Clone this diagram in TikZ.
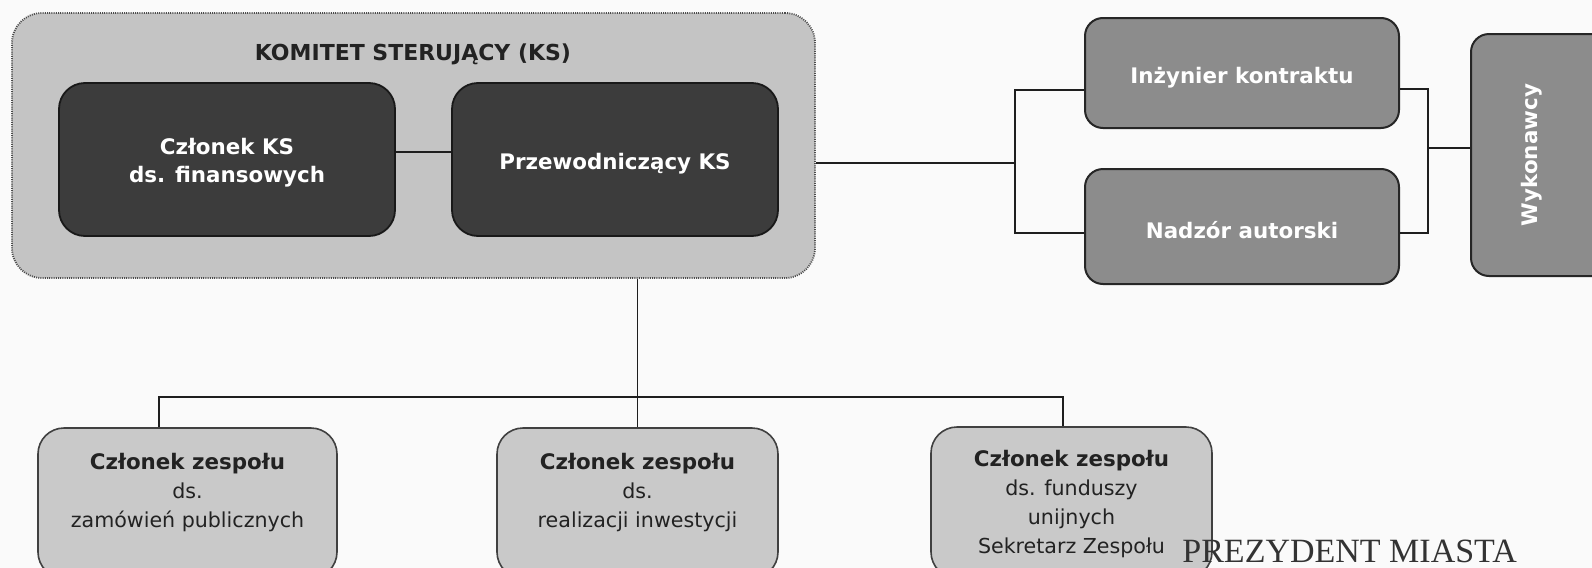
\documentclass[tikz,border=0pt]{standalone}
\usepackage{fontspec}
\setmainfont{DejaVu Sans}
\newfontfamily\stampfont{Liberation Serif}
\definecolor{bgC}{HTML}{FAFAFA}
\definecolor{ksC}{HTML}{C4C4C4}
\definecolor{darkC}{HTML}{3C3C3C}
\definecolor{midC}{HTML}{8C8C8C}
\definecolor{lightC}{HTML}{C9C9C9}
\definecolor{textC}{HTML}{222222}
\definecolor{lineC}{HTML}{1E1E1E}
\tikzset{
  boldfont/.style={font=\fontsize{10.7}{14}\selectfont\bfseries},
  ksbox/.style={draw=lineC!80, fill=ksC, line width=0.9pt, dash pattern=on 0.5pt off 0.6pt, rounded corners=15pt, inner sep=0pt},
  darkbox/.style={draw=black!90, fill=darkC, line width=0.9pt, rounded corners=13pt, inner sep=0pt},
  midbox/.style={draw=black!85, fill=midC, line width=1pt, rounded corners=9pt, inner sep=0pt},
  whitetext/.style={text=white, boldfont, align=center, inner sep=0pt},
  lightbox/.style={draw=black!75, fill=lightC, line width=0.8pt, rounded corners=13pt, inner sep=0pt},
  ztext/.style={align=center, text=textC, font=\fontsize{10.3}{14.5}\selectfont, inner sep=0pt},
  titletext/.style={text=textC, font=\fontsize{11}{13}\selectfont\bfseries, inner sep=0pt},
  link/.style={draw=lineC, line width=0.65pt},
}
\begin{document}
\begin{tikzpicture}[x=0.5pt,y=-0.5pt]
\path[use as bounding box, fill=bgC] (0,0) rectangle (1592,568);
\clip (0,0) rectangle (1592,568);

% Komitet sterujacy
\node[ksbox, minimum width=401.5pt, minimum height=132.5pt] (ks) at (413.5,145.5) {};
\node[titletext] (kst) at (413,54) {KOMITET STERUJĄCY (KS)};
\node[darkbox, minimum width=168pt, minimum height=76.5pt] (d1) at (227,159.5) {};
\node[darkbox, minimum width=163pt, minimum height=76.5pt] (d2) at (615,159.5) {};
\node[whitetext] (d1t) at (227,163) {Członek KS\\ds. finansowych};
\node[whitetext] (d2t) at (615,163.5) {Przewodniczący KS};
\draw[link] ([yshift=3.75pt]d1.east) -- ([yshift=3.75pt]d2.west);

% right side
\node[midbox, minimum width=157pt, minimum height=55pt] (ink) at (1242,73) {};
\node[midbox, minimum width=157pt, minimum height=57.5pt] (nad) at (1242,226.5) {};
\node[midbox, minimum width=70pt, minimum height=121pt] (wyk) at (1541,155) {};
\node[whitetext] (inkt) at (1242,78) {Inżynier kontraktu};
\node[whitetext] (nadt) at (1242,230.5) {Nadzór autorski};
\node[whitetext] (wykt) at (1532,155) {\rotatebox{90}{Wykonawcy}};

\coordinate (lb) at (1015,163);
\coordinate (rb) at (1428,148);
\draw[link] (ks.east |- lb) -- (lb);
\draw[link] ([yshift=-8.5pt]ink.west) -| (lb) |- ([yshift=-3.25pt]nad.west);
\draw[link] ([yshift=-8pt]ink.east) -| (rb) |- ([yshift=-3.25pt]nad.east);
\draw[link] (rb) -- (rb -| wyk.west);

% bottom team
\node[lightbox, minimum width=149.5pt, minimum height=75pt] (za) at (187.5,503) {};
\node[lightbox, minimum width=140.5pt, minimum height=75pt] (zb) at (637.5,503) {};
\node[lightbox, minimum width=140.5pt, minimum height=75.5pt] (zc) at (1071.5,502.5) {};
\node[ztext] (zat) at (187.5,493) {{\bfseries\fontsize{10.7}{14.5}\selectfont Członek zespołu}\\ds.\\zamówień publicznych};
\node[ztext] (zbt) at (637.5,493) {{\bfseries\fontsize{10.7}{14.5}\selectfont Członek zespołu}\\ds.\\realizacji inwestycji};
\node[ztext] (zct) at (1071.5,504) {{\bfseries\fontsize{10.7}{14.5}\selectfont Członek zespołu}\\ds. funduszy\\unijnych\\Sekretarz Zespołu};

\coordinate (bus) at (637.5,397);
\draw[link] (ks.south -| zb.north) -- (zb.north);
\draw[link] ([xshift=-14.25pt]za.north) |- (bus) -| ([xshift=-4.25pt]zc.north);

% stamp fragment
\node[anchor=base west, inner sep=0pt, text=black!80, font=\stampfont\fontsize{17}{20}\selectfont] (stamp) at (1182,562) {PREZYDENT MIASTA};
\end{tikzpicture}
\end{document}
